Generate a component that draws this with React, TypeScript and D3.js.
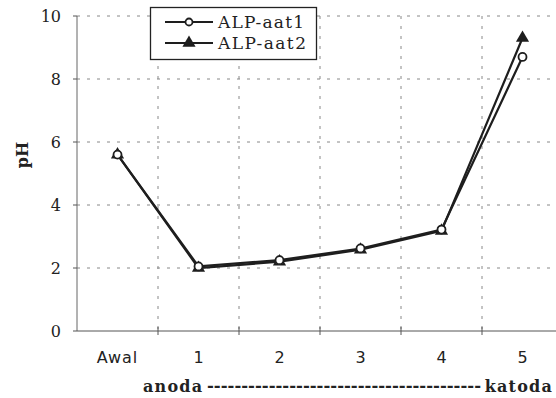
import { useEffect, useRef } from 'react';
import * as d3 from 'd3';

const categories = ['Awal', '1', '2', '3', '4', '5'];
const aat1 = [5.6, 2.05, 2.25, 2.62, 3.22, 8.7];
const aat2 = [5.6, 2.0, 2.2, 2.58, 3.18, 9.3];
const yTicks = [0, 2, 4, 6, 8, 10];
const seriesNames = ['ALP-aat1', 'ALP-aat2'];

export default function App() {
  const svgRef = useRef<SVGSVGElement>(null);

  useEffect(() => {
    const svg = d3.select(svgRef.current);
    svg.selectAll('*').remove();

    const W = 556, H = 398;
    const left = 77, right = 563, top = 16, bottom = 331;

    svg.append('rect').attr('width', W).attr('height', H).attr('fill', '#fff');

    const x = d3.scaleBand().domain(categories).range([left, right]).paddingInner(0).paddingOuter(0);
    const y = d3.scaleLinear().domain([0, 10]).range([bottom, top]);
    const cx = (c: string) => (x(c) as number) + x.bandwidth() / 2;

    const grid = svg.append('g').attr('stroke', '#888').attr('stroke-width', 1).attr('stroke-dasharray', '3,7');
    // horizontal grid
    grid.selectAll('line.h').data(yTicks.filter(t => t > 0)).enter().append('line')
      .attr('x1', left).attr('x2', W).attr('y1', d => y(d)).attr('y2', d => y(d));
    // vertical grid at band edges
    grid.selectAll('line.v').data(categories.slice(1)).enter().append('line')
      .attr('x1', d => x(d) as number).attr('x2', d => x(d) as number)
      .attr('y1', top).attr('y2', bottom);

    // axes
    svg.append('line').attr('x1', left).attr('x2', left).attr('y1', top).attr('y2', bottom)
      .attr('stroke', '#666').attr('stroke-width', 1);
    svg.append('line').attr('x1', left).attr('x2', W).attr('y1', bottom).attr('y2', bottom)
      .attr('stroke', '#555').attr('stroke-width', 1);
    svg.selectAll('line.yt').data(yTicks).enter().append('line')
      .attr('x1', left - 4).attr('x2', left).attr('y1', d => y(d)).attr('y2', d => y(d))
      .attr('stroke', '#555');
    svg.selectAll('line.xt').data(categories.slice(1)).enter().append('line')
      .attr('x1', d => x(d) as number).attr('x2', d => x(d) as number)
      .attr('y1', bottom - 4).attr('y2', bottom + 4).attr('stroke', '#555');

    // tick labels
    svg.selectAll('text.yl').data(yTicks).enter().append('text')
      .attr('x', 61).attr('y', d => y(d) + 6).attr('text-anchor', 'end')
      .attr('font-family', 'DejaVu Serif').attr('font-size', 16).attr('fill', '#222')
      .text(d => d);
    svg.selectAll('text.xl').data(categories).enter().append('text')
      .attr('x', d => cx(d)).attr('y', 363).attr('text-anchor', 'middle')
      .attr('font-family', 'DejaVu Sans').attr('font-size', 16).attr('fill', '#222')
      .attr('letter-spacing', d => d === 'Awal' ? 1 : 0)
      .text(d => d);

    svg.append('text').attr('transform', 'translate(28,155) rotate(-90)')
      .attr('text-anchor', 'middle').attr('font-family', 'DejaVu Serif').attr('font-weight', 'bold')
      .attr('font-size', 16).attr('fill', '#222').text('pH');

    // bottom label
    const bl = svg.append('g').attr('font-family', 'DejaVu Serif').attr('font-weight', 'bold')
      .attr('font-size', 16).attr('fill', '#222');
    bl.append('text').attr('x', 143).attr('y', 392).attr('letter-spacing', 1.2).text('anoda');
    bl.append('text').attr('x', 553).attr('y', 392).attr('text-anchor', 'end').attr('letter-spacing', 1.2).text('katoda');
    bl.append('text').attr('x', 207).attr('y', 391).attr('textLength', 274).attr('lengthAdjust', 'spacingAndGlyphs')
      .text('-'.repeat(40));

    const line = d3.line<number>().x((_, i) => cx(categories[i])).y(d => y(d));
    const ink = '#1e1e1e';

    svg.append('path').datum(aat2).attr('d', line).attr('fill', 'none').attr('stroke', ink).attr('stroke-width', 2.2);
    svg.append('path').datum(aat1).attr('d', line).attr('fill', 'none').attr('stroke', ink).attr('stroke-width', 2.2);

    const tri = d3.symbol().type(d3.symbolTriangle).size(75);
    svg.selectAll('path.tri').data(aat2).enter().append('path')
      .attr('d', tri).attr('transform', (d, i) => `translate(${cx(categories[i])},${y(d)})`)
      .attr('fill', ink);
    svg.selectAll('circle.c').data(aat1).enter().append('circle')
      .attr('cx', (_, i) => cx(categories[i])).attr('cy', d => y(d)).attr('r', 4)
      .attr('fill', '#fff').attr('stroke', ink).attr('stroke-width', 1.8);

    // legend
    const lg = svg.append('g');
    lg.append('rect').attr('x', 150.5).attr('y', 7.5).attr('width', 166).attr('height', 52)
      .attr('fill', '#fff').attr('stroke', '#222').attr('stroke-width', 1.3);
    seriesNames.forEach((name, i) => {
      const ly = 22 + i * 21;
      lg.append('line').attr('x1', 165).attr('x2', 213).attr('y1', ly).attr('y2', ly)
        .attr('stroke', ink).attr('stroke-width', 2.2);
      if (i === 0) {
        lg.append('circle').attr('cx', 189).attr('cy', ly).attr('r', 3.5)
          .attr('fill', '#fff').attr('stroke', ink).attr('stroke-width', 1.8);
      } else {
        lg.append('path').attr('d', tri).attr('transform', `translate(189,${ly})`).attr('fill', ink);
      }
      lg.append('text').attr('x', 218).attr('y', ly + 6).attr('font-family', 'DejaVu Serif')
        .attr('font-size', 17).attr('fill', '#222').attr('textLength', i === 0 ? 86 : 88)
        .text(name);
    });
  }, []);

  return (
    <svg ref={svgRef} width={556} height={398}
      style={{ position: 'absolute', left: 0, top: 0, display: 'block' }} />
  );
}
